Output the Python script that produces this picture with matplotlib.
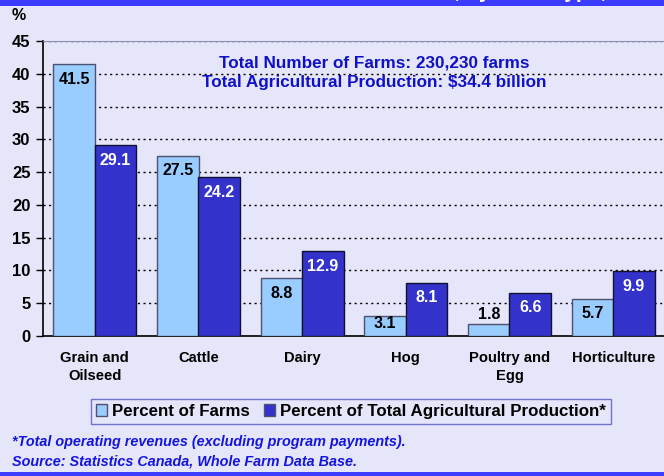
import matplotlib
matplotlib.use("Agg")
import matplotlib.pyplot as plt
from matplotlib.patches import Rectangle
import numpy as np

categories = ["Grain and\nOilseed", "Cattle", "Dairy", "Hog", "Poultry and\nEgg", "Horticulture"]
pct_farms = [41.5, 27.5, 8.8, 3.1, 1.8, 5.7]
pct_production = [29.1, 24.2, 12.9, 8.1, 6.6, 9.9]
yticks = [0, 5, 10, 15, 20, 25, 30, 35, 40, 45]
series_names = ["Percent of Farms", "Percent of Total Agricultural Production*"]

BG = "#E6E6FA"
LIGHT = "#99CCFF"
DARK = "#3333CC"
plt.rcParams['font.family'] = ['Liberation Sans', 'DejaVu Sans']

W, H = 664, 476
fig = plt.figure(figsize=(W / 100, H / 100), dpi=100)
fig.patch.set_facecolor(BG)

# top banner and bottom line
fig.add_artist(Rectangle((0, 1 - 6 / H), 1, 6 / H, transform=fig.transFigure,
                         facecolor="#3C3CFF", edgecolor="none", zorder=0))
fig.add_artist(Rectangle((0, 0), 1, 4 / H, transform=fig.transFigure,
                         facecolor="#3C3CFF", edgecolor="none", zorder=0))
fig.text(0.56, 1 + 1.5 / H, "Distribution of Farms and Production, by Farm Type, 2001",
         color="white", fontsize=15, fontweight="bold", ha="center", va="baseline")

ax = fig.add_axes([43 / W, 1 - 336 / H, 622 / W, 295 / H])
ax.set_facecolor(BG)

x = np.arange(len(categories))
bw = 0.4
ax.bar(x - bw / 2, pct_farms, bw, color=LIGHT, edgecolor="#505070", linewidth=1, zorder=3)
ax.bar(x + bw / 2, pct_production, bw, color=DARK, edgecolor="#101030", linewidth=1, zorder=3)

def label_y(v):
    return max(v - 2.3, v / 2 + 0.4)

LFS = 11.5
for xi, v in zip(x, pct_farms):
    if v < 2.5:
        ax.text(xi - bw / 2, v + 0.35, f"{v}", ha="center", va="bottom", fontsize=LFS,
                fontweight="bold", color="black", zorder=4)
    else:
        ax.text(xi - bw / 2, label_y(v), f"{v}", ha="center", va="center", fontsize=LFS,
                fontweight="bold", color="black", zorder=4)
for xi, v in zip(x, pct_production):
    ax.text(xi + bw / 2, label_y(v), f"{v}", ha="center", va="center", fontsize=LFS,
            fontweight="bold", color="white", zorder=4)

ax.set_xlim(-0.5, len(categories) - 0.5)
ax.set_ylim(0, 45)
ax.set_yticks(yticks)
ax.set_yticklabels([str(t) for t in yticks], fontsize=12, fontweight="bold")
ax.set_xticks(x)
ax.set_xticklabels(categories, fontsize=10.6, fontweight="bold", linespacing=1.3)
ax.tick_params(axis="x", length=0, pad=11)
ax.tick_params(axis="y", direction="out", length=5, width=1, pad=4)
ax.yaxis.grid(True, color="black", linestyle=(0, (1.5, 2.5)), linewidth=1)
ax.set_axisbelow(True)
ax.spines["right"].set_visible(False)
ax.spines["top"].set_color("#9090B0")
ax.spines["left"].set_linewidth(1.2)
ax.spines["bottom"].set_linewidth(1.2)

fig.text(12 / W, 1 - 16 / H, "%", fontsize=11.5, fontweight="bold", va="center", ha="left")

fig.text(374 / W, 1 - 63 / H, "Total Number of Farms: 230,230 farms", color="#1010C8",
         fontsize=12.3, fontweight="bold", ha="center", va="center")
fig.text(374 / W, 1 - 83 / H, "Total Agricultural Production: $34.4 billion", color="#1010C8",
         fontsize=12.3, fontweight="bold", ha="center", va="center")

handles = [Rectangle((0, 0), 1, 1, facecolor=LIGHT, edgecolor="#505070"),
           Rectangle((0, 0), 1, 1, facecolor=DARK, edgecolor="#505070")]
leg = fig.legend(handles, series_names, loc="center", bbox_to_anchor=(351 / W, 1 - 411.5 / H),
                 ncol=2, frameon=True, fancybox=False,
                 prop={"weight": "bold", "size": 12.2}, handlelength=0.65, handleheight=0.65,
                 handletextpad=0.3, columnspacing=0.8, borderpad=0.3)
leg.get_frame().set_facecolor(BG)
leg.get_frame().set_edgecolor("#5555CC")
leg.get_frame().set_linewidth(1)

fig.text(12 / W, 1 - 442 / H, "*Total operating revenues (excluding program payments).",
         color="#1414E0", fontsize=10.4, fontweight="bold", style="italic", va="center")
fig.text(12 / W, 1 - 461 / H, "Source: Statistics Canada, Whole Farm Data Base.",
         color="#1414E0", fontsize=10.4, fontweight="bold", style="italic", va="center")

fig.savefig("out.png", dpi=100, facecolor=BG)
